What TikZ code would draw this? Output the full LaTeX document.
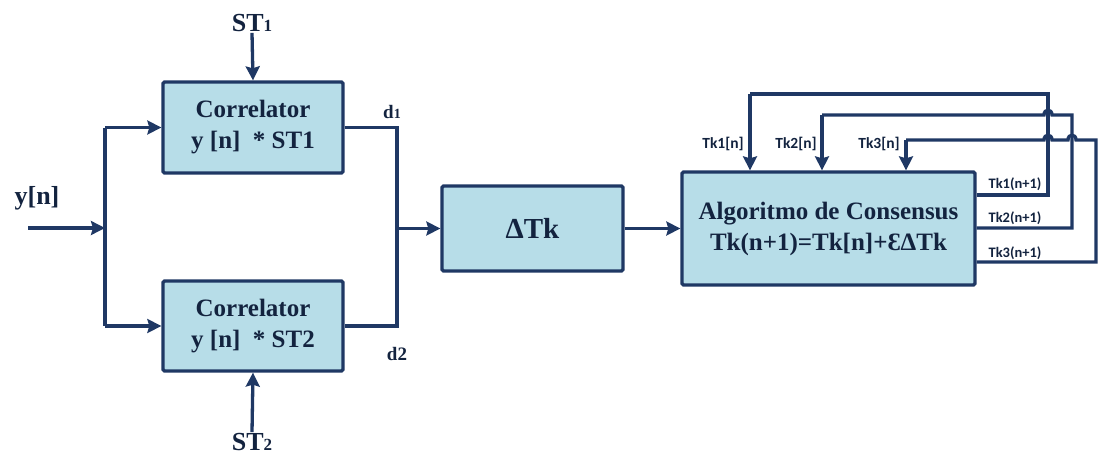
\documentclass[tikz,border=0pt]{standalone}
\usepackage{fontspec}
\setmainfont{Liberation Serif}
\newfontfamily\labelsans{Carlito}
\usetikzlibrary{arrows.meta}
\definecolor{linecol}{HTML}{1F3864}
\definecolor{textcol}{HTML}{13233F}
\definecolor{boxfill}{HTML}{B7DDE8}
\tikzset{
  block/.style={draw=linecol, line width=3.3pt, fill=boxfill, rounded corners=1.5pt,
    align=center, text=textcol, font=\fontsize{25}{31}\selectfont\bfseries, inner sep=0pt},
  wire/.style={draw=linecol, line width=3.3pt},
  arr/.style={wire, -{Stealth[length=14pt, width=14pt, inset=2pt]}},
  biglabel/.style={text=textcol, font=\fontsize{26}{30}\selectfont\bfseries, inner sep=1pt},
  dlabel/.style={text=textcol, font=\fontsize{19}{22}\selectfont\bfseries, inner sep=1pt},
  tklabel/.style={text=textcol, font=\labelsans\fontsize{15.5}{18}\selectfont\bfseries, inner sep=1pt},
  tkoutlabel/.style={text=textcol, font=\labelsans\fontsize{14.5}{17}\selectfont\bfseries, inner sep=1pt}
}
\newcommand{\subidx}[1]{{\fontsize{17}{20}\selectfont #1}}
\newcommand{\subd}[1]{{\fontsize{14}{16}\selectfont #1}}
\begin{document}
\begin{tikzpicture}[x=1pt, y=-1pt]
  \useasboundingbox (0,0) rectangle (1102,458);

  % processing blocks
  \node[block, minimum width=180pt, minimum height=91pt] (c1) at (253,127.5)
    {Correlator\\y [n]\ \ * ST1};
  \node[block, minimum width=180pt, minimum height=90pt] (c2) at (253,326)
    {Correlator\\y [n]\ \ * ST2};
  \node[block, minimum width=181pt, minimum height=85pt,
        font=\fontsize{29}{31}\selectfont\bfseries] (dtk) at (532.5,228.5)
    {ΔTk};
  \node[block, minimum width=293pt, minimum height=113pt] (cons) at (828.5,228.5)
    {Algoritmo de Consensus\\Tk(n+1)=Tk[n]+ƐΔTk};

  % reference signals
  \node[biglabel] (st1) at (252,23) {ST\subidx{1}};
  \node[biglabel] (st2) at (252,442) {ST\subidx{2}};
  \draw[arr] (st1.south) -- (c1.north);
  \draw[arr] (st2.north) -- (c2.south);

  % input and split
  \node[biglabel] (yn) at (37,198) {y[n]};
  \coordinate (yin) at (28,228);
  \coordinate (split) at (105,228);
  \coordinate (splitT) at (105,127.5);
  \coordinate (splitB) at (105,326);
  \draw[arr] (yin) -- (split);
  \draw[wire] (splitT) -- (splitB);
  \draw[arr] (splitT) -- (c1.west);
  \draw[arr] (splitB) -- (c2.west);

  % correlator outputs merge into the delta block
  \coordinate (mT) at (397,127.5);
  \coordinate (mB) at (397,326);
  \coordinate (mC) at (397,228.5);
  \draw[wire] (c1.east) -- (mT) -- (mB) -- (c2.east);
  \draw[arr] (mC) -- (dtk.west);
  \node[dlabel] (d1) at (392,112) {d\subd{1}};
  \node[dlabel] (d2) at (397,354) {d2};

  \draw[arr] (dtk.east) -- (cons.west);

  % feedback loops of the consensus block
  \coordinate (o1) at (1048,195);
  \coordinate (o2) at (1072,228);
  \coordinate (o3) at (1096,262);
  \coordinate (f1) at (750,94);
  \coordinate (f2) at (822,115);
  \coordinate (f3) at (906,140);

  \draw[wire, line join=miter] (o1 -| cons.east) -- (o1) -- (o1 |- f1) -- (f1);
  \draw[arr] (f1) -- (f1 |- cons.north);

  \draw[wire, line join=miter] (o2 -| cons.east) -- (o2) -- (o2 |- f2) -- (1052,115)
    .. controls (1052,108.5) and (1044,108.5) .. (1044,115) -- (f2);
  \draw[arr] (f2) -- (f2 |- cons.north);

  \draw[wire, line join=miter] (o3 -| cons.east) -- (o3) -- (o3 |- f3) -- (1076,140)
    .. controls (1076,133.5) and (1068,133.5) .. (1068,140) -- (1052,140)
    .. controls (1052,133.5) and (1044,133.5) .. (1044,140) -- (f3);
  \draw[arr] (f3) -- (f3 |- cons.north);

  \node[tklabel] (l1) at (723,144) {Tk1[n]};
  \node[tklabel] (l2) at (796,144) {Tk2[n]};
  \node[tklabel] (l3) at (879,144) {Tk3[n]};
  \node[tkoutlabel] (r1) at (1015,184) {Tk1(n+1)};
  \node[tkoutlabel] (r2) at (1015,218) {Tk2(n+1)};
  \node[tkoutlabel] (r3) at (1015,253) {Tk3(n+1)};
\end{tikzpicture}
\end{document}
